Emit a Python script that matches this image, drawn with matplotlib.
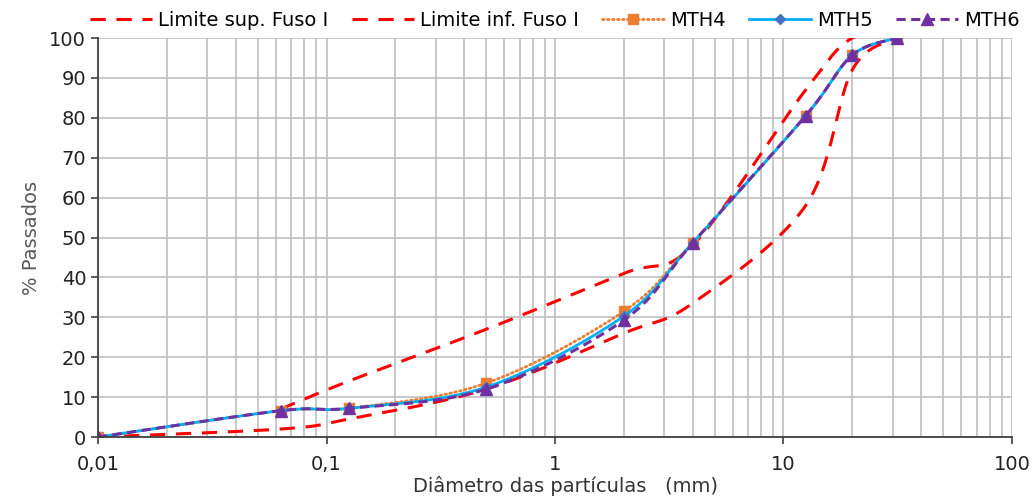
import numpy as np
import matplotlib
matplotlib.use("Agg")
import matplotlib.pyplot as plt
from matplotlib.ticker import FixedLocator, FuncFormatter, NullFormatter

plt.rcParams["font.family"] = ["DejaVu Sans"]

# peneiras (mm) e % passante
diam = [0.01, 0.063, 0.125, 0.5, 2, 4, 12.5, 20, 31.5]
lim_sup_x = [0.063, 0.125, 0.5, 2, 4, 12.5, 20, 31.5]
lim_sup = [7, 14, 27, 41, 48, 87, 100, 100]
lim_inf = [0, 2, 4.5, 12, 26, 33.5, 58, 92, 100]
mth4 = [0, 6.6, 7.2, 13.5, 31.5, 48.7, 80.5, 95.7, 100]
mth5 = [0, 6.6, 7.2, 12.5, 30.3, 48.6, 80.5, 95.7, 100]
mth6 = [0, 6.6, 7.2, 12.0, 29.3, 48.6, 80.5, 95.7, 100]


def smooth(x, y, n=30):
    # curva suavizada (bezier tipo catmull-rom) em escala log
    u = np.log10(np.asarray(x, float))
    y = np.asarray(y, float)
    pu = np.r_[u[0], u, u[-1]]
    py = np.r_[y[0], y, y[-1]]
    t = np.linspace(0, 1, n, endpoint=False)[:, None]
    segs = []
    for i in range(len(u) - 1):
        p0, p1, p2, p3 = [np.array([pu[i + k], py[i + k]]) for k in range(4)]
        b1 = p1 + (p2 - p0) / 6
        b2 = p2 - (p3 - p1) / 6
        seg = ((1 - t) ** 3) * p1 + 3 * ((1 - t) ** 2) * t * b1 \
            + 3 * (1 - t) * t ** 2 * b2 + t ** 3 * p2
        segs.append(seg)
    segs.append(np.array([[u[-1], y[-1]]]))
    pts = np.vstack(segs)
    idx = [i * n for i in range(len(u))]
    return 10 ** pts[:, 0], pts[:, 1], idx


fig = plt.figure(figsize=(10.32, 4.97), dpi=100)
ax = fig.add_axes([0.095, 0.1207, 0.8856, 0.8028])

xs, ys, _ = smooth(lim_sup_x, lim_sup)
ax.plot(xs, ys, color="#FF0000", lw=2.2, dashes=(5, 3.5), label="Limite sup. Fuso I")
xs, ys, _ = smooth(diam, lim_inf)
ax.plot(xs, ys, color="#FF0000", lw=2.2, dashes=(5, 3.5), label="Limite inf. Fuso I")

xs, ys, idx = smooth(diam, mth4)
ax.plot(xs, ys, color="#ED7D31", lw=2.0, linestyle=(0, (0.6, 1.2)),
        dash_capstyle="round", marker="s", markersize=7, markevery=idx,
        markerfacecolor="#ED7D31", markeredgecolor="#ED7D31", label="MTH4")
xs, ys, idx = smooth(diam, mth5)
ax.plot(xs, ys, color="#00B0F0", lw=2.0, marker="D", markersize=5.5, markevery=idx,
        markerfacecolor="#4472C4", markeredgecolor="#4472C4", label="MTH5")
xs, ys, idx = smooth(diam, mth6)
ax.plot(xs, ys, color="#7030A0", lw=2.2, dashes=(3, 1.8), marker="^", markersize=8,
        markevery=idx, markerfacecolor="#7030A0", markeredgecolor="#7030A0", label="MTH6")

ax.set_xscale("log")
ax.set_xlim(0.01, 100)
ax.set_ylim(0, 100)
ax.set_yticks(np.arange(0, 101, 10))
ax.xaxis.set_major_locator(FixedLocator([0.01, 0.1, 1, 10, 100]))
minors = [m * 10.0 ** e for e in range(-2, 2) for m in range(2, 10)]
ax.xaxis.set_minor_locator(FixedLocator(minors))
ax.xaxis.set_minor_formatter(NullFormatter())
ax.xaxis.set_major_formatter(FuncFormatter(lambda v, p: ("%g" % v).replace(".", ",")))

ax.grid(True, which="both", axis="x", color="#BFBFBF", lw=1.2)
ax.grid(True, which="major", axis="y", color="#BFBFBF", lw=1.2)
ax.set_axisbelow(True)

for s in ["top", "right"]:
    ax.spines[s].set_visible(False)
for s in ["left", "bottom"]:
    ax.spines[s].set_color("#404040")
    ax.spines[s].set_linewidth(1.3)
ax.tick_params(axis="both", which="major", direction="out", length=5, width=1.2,
               color="#404040", labelsize=14, labelcolor="#222222")
ax.tick_params(axis="x", which="major", pad=8)
ax.tick_params(axis="x", which="minor", length=0)

ax.set_xlabel("Diâmetro das partículas   (mm)", fontsize=14, color="#333333")
ax.xaxis.set_label_coords(0.511, -0.097)
ax.set_ylabel("% Passados", fontsize=14, color="#595959", labelpad=6)

ax.legend(loc="lower center", bbox_to_anchor=(0.5, 1.0), ncol=5, frameon=False,
          fontsize=14, handlelength=3.2, columnspacing=1.2, handletextpad=0.3,
          borderaxespad=0.0)

fig.savefig("out.png", dpi=100)
